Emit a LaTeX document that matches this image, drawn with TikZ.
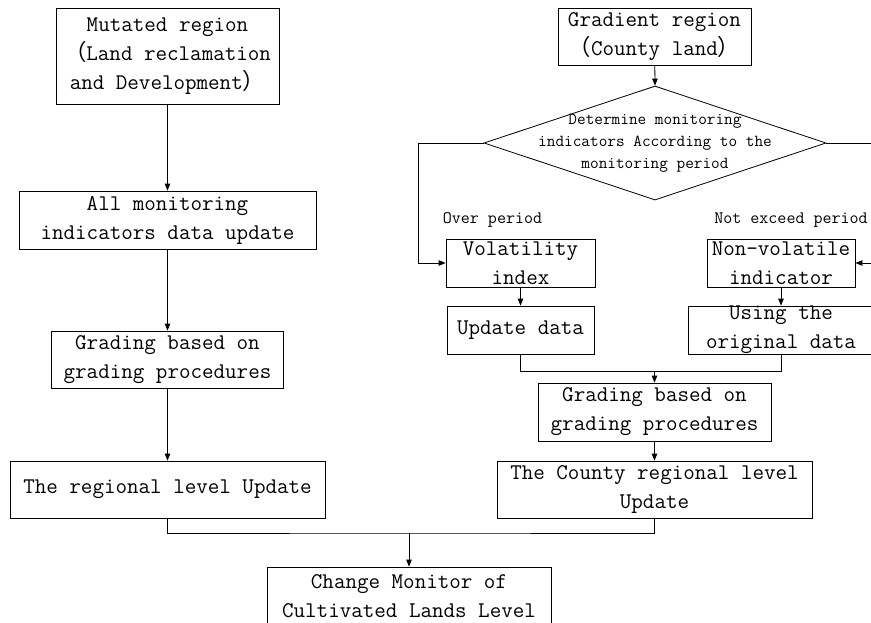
\documentclass[tikz,border=0pt]{standalone}
\usepackage{fontspec}
\newfontfamily\cjk{Noto Sans CJK SC}
\usetikzlibrary{arrows.meta,shapes.geometric}
\newcommand{\lpar}{{\cjk （}}
\newcommand{\rpar}{{\cjk ）}}
\begin{document}
\begin{tikzpicture}[x=1pt,y=-1pt,
  every path/.style={line width=0.8pt},
  box/.style={draw,rectangle,inner sep=0pt,align=center,
    font=\ttfamily\fontsize{22.4}{29}\selectfont},
  lbl/.style={inner sep=0pt,font=\ttfamily\fontsize{17.5}{22}\selectfont},
  arr/.style={-{Triangle[length=7pt,width=5.5pt]}}]
\useasboundingbox (0,0) rectangle (871,622);
% left column
\node[box,minimum width=223pt,minimum height=96pt] (m1) at (167.5,56) {Mutated region\\ \lpar Land reclamation\\and Development\rpar};
\node[box,minimum width=297pt,minimum height=58pt] (m2) at (167.5,220) {All monitoring\\indicators data update};
\node[box,minimum width=232pt,minimum height=57pt] (m3) at (167.5,359.5) {Grading based on\\grading procedures};
\node[box,minimum width=315pt,minimum height=57pt] (m4) at (167.5,489.5) {The regional level Update};
% right column
\node[box,minimum width=193pt,minimum height=57pt] (g1) at (654.5,36.5) {Gradient region\\\lpar County land\rpar};
\node[draw,diamond,inner sep=0pt,minimum width=342pt,minimum height=114pt] (dia) at (655,143) {};
\node[lbl,align=center,font=\ttfamily\fontsize{16.8}{22}\selectfont] (diat) at (dia.center) {Determine monitoring\\indicators According to the\\monitoring period};
\node[lbl] (ov) at (492.5,220) {Over period};
\node[lbl,anchor=west] (ne) at (714,220) {Not exceed period};
\node[box,minimum width=149pt,minimum height=48pt] (vol) at (520.5,263) {Volatility\\index};
\node[box,minimum width=148pt,minimum height=48pt] (non) at (781,263) {Non-volatile\\indicator};
\node[box,minimum width=147pt,minimum height=48pt] (upd) at (520.5,330) {Update data};
\node[box,minimum width=186pt,minimum height=48pt] (use) at (781,330) {Using the\\original data};
\node[box,minimum width=233pt,minimum height=58pt] (gr2) at (654.5,412) {Grading based on\\grading procedures};
\node[box,minimum width=315pt,minimum height=57pt] (cty) at (654.5,489.5) {The County regional level\\Update};
\node[box,minimum width=284pt,minimum height=58pt] (fin) at (409,596) {Change Monitor of\\Cultivated Lands Level};
% helper coordinates
\coordinate (lx) at (418,143);
\coordinate (rx) at (885,143);
\coordinate (j1) at (654.5,371);
\coordinate (j2) at (409,533);
% connectors
\draw[arr] (m1) -- (m2);
\draw[arr] (m2) -- (m3);
\draw[arr] (m3) -- (m4);
\draw[arr] (g1) -- (dia.north);
\draw[arr] (dia.west) -- (lx) |- (vol.west);
\draw[arr] (dia.east) -- (rx) |- (non.east);
\draw[arr] (vol) -- (upd);
\draw[arr] (non) -- (use);
\draw (upd.south) |- (j1);
\draw (use.south) |- (j1);
\draw[arr] (j1) -- (gr2.north);
\draw[arr] (gr2) -- (cty);
\draw (m4.south) |- (j2) -| (cty.south);
\draw[arr] (j2) -- (fin.north);
\end{tikzpicture}
\end{document}
